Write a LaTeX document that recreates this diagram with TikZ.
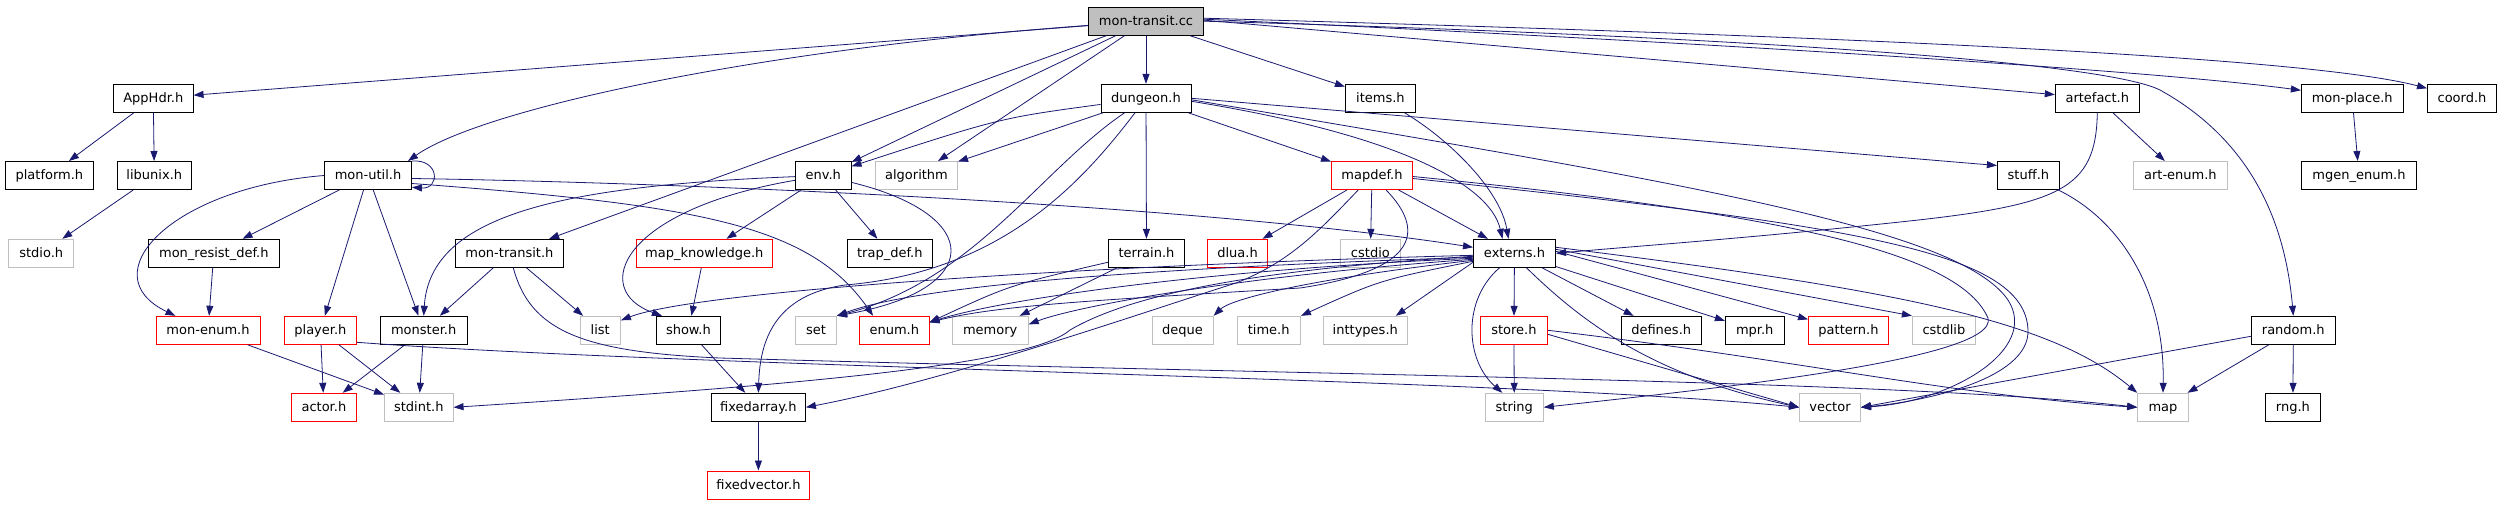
\documentclass[tikz,border=0pt]{standalone}
\usepackage{fontspec}
\setmainfont{DejaVu Sans}
\usetikzlibrary{arrows.meta}
\definecolor{eblue}{HTML}{191970}
\definecolor{grey75}{HTML}{BFBFBF}
\begin{document}
\begin{tikzpicture}[x=1pt,y=-1pt,
  nd/.style={rectangle, draw, line width=1pt, inner sep=0pt, minimum height=28pt,
    text height=10pt, text depth=2pt, font=\fontsize{13pt}{15pt}\selectfont, text=black},
  bk/.style={nd, draw=black},
  gy/.style={nd, draw=grey75},
  rd/.style={nd, draw=red},
  ln/.style={draw=eblue, line width=0.8pt, -{Triangle[length=10pt,width=7pt]}}]
\useasboundingbox (0,0) rectangle (2501,504);
\fill[white] (0,0) rectangle (2501,504);
% row 0
\node[bk, fill=grey75, minimum width=115pt] (root) at (1146,21.2) {mon-transit.cc};
% row 1
\node[bk, minimum width=79.5pt] (apphdr) at (153.3,98.3) {AppHdr.h};
\node[bk, minimum width=90pt] (dungeon) at (1146,98.3) {dungeon.h};
\node[bk, minimum width=70pt] (items) at (1380.4,98.3) {items.h};
\node[bk, minimum width=84pt] (artefact) at (2097.3,98.3) {artefact.h};
\node[bk, minimum width=101.6pt] (monplace) at (2352.2,98.3) {mon-place.h};
\node[bk, minimum width=69pt] (coord) at (2462,98.3) {coord.h};
% row 2
\node[bk, minimum width=88pt] (platform) at (49.4,175.5) {platform.h};
\node[bk, minimum width=73.4pt] (libunix) at (154.3,175.5) {libunix.h};
\node[bk, minimum width=87pt] (monutil) at (368,175.5) {mon-util.h};
\node[bk, minimum width=55.5pt] (env) at (823.3,175.5) {env.h};
\node[gy, minimum width=82pt] (algorithm) at (916.5,175.5) {algorithm};
\node[rd, minimum width=81pt] (mapdef) at (1372,175.5) {mapdef.h};
\node[bk, minimum width=62pt] (stuff) at (2028.4,175.5) {stuff.h};
\node[gy, minimum width=94pt] (artenum) at (2180.4,175.5) {art-enum.h};
\node[bk, minimum width=115pt] (mgenenum) at (2359,175.5) {mgen\_enum.h};
% row 3
\node[gy, minimum width=64.5pt] (stdio) at (41.2,253.3) {stdio.h};
\node[bk, minimum width=131.6pt] (monresist) at (213.8,253.3) {mon\_resist\_def.h};
\node[bk, minimum width=108.7pt] (montransith) at (509.4,253.3) {mon-transit.h};
\node[rd, minimum width=136pt] (mapknow) at (704.3,253.3) {map\_knowledge.h};
\node[bk, minimum width=85pt] (trapdef) at (889.8,253.3) {trap\_def.h};
\node[bk, minimum width=76pt] (terrain) at (1146.5,253.3) {terrain.h};
\node[rd, minimum width=59.5pt] (dlua) at (1237.5,253.3) {dlua.h};
\node[gy, minimum width=60pt] (cstdio) at (1370.4,253.3) {cstdio};
\node[bk, minimum width=82pt] (externs) at (1514.5,253.3) {externs.h};
% row 4
\node[rd, minimum width=104pt] (monenum) at (208,330.3) {mon-enum.h};
\node[rd, minimum width=72pt] (player) at (320.4,330.3) {player.h};
\node[bk, minimum width=87.3pt] (monster) at (423.7,330.3) {monster.h};
\node[gy, minimum width=40.4pt] (list) at (600.2,330.3) {list};
\node[bk, minimum width=64pt] (show) at (688.4,330.3) {show.h};
\node[gy, minimum width=41pt] (set) at (816,330.3) {set};
\node[rd, minimum width=69.4pt] (enum) at (894.3,330.3) {enum.h};
\node[gy, minimum width=76pt] (memory) at (990.2,330.3) {memory};
\node[gy, minimum width=61pt] (deque) at (1182.6,330.3) {deque};
\node[gy, minimum width=63.4pt] (timeh) at (1268.7,330.3) {time.h};
\node[gy, minimum width=84pt] (inttypes) at (1365.3,330.3) {inttypes.h};
\node[rd, minimum width=67pt] (store) at (1513.9,330.3) {store.h};
\node[bk, minimum width=80pt] (defines) at (1661.2,330.3) {defines.h};
\node[bk, minimum width=58.7pt] (mpr) at (1754.7,330.3) {mpr.h};
\node[rd, minimum width=80pt] (pattern) at (1848.5,330.3) {pattern.h};
\node[gy, minimum width=63pt] (cstdlib) at (1943.9,330.3) {cstdlib};
\node[bk, minimum width=84pt] (random) at (2293.3,330.3) {random.h};
% row 5
\node[rd, minimum width=65pt] (actor) at (323.9,407.3) {actor.h};
\node[gy, minimum width=68.5pt] (stdint) at (418.8,407.3) {stdint.h};
\node[bk, minimum width=94pt] (fixedarray) at (758.4,407.3) {fixedarray.h};
\node[gy, minimum width=58pt] (string) at (1514.3,407.3) {string};
\node[gy, minimum width=61pt] (vector) at (1830,407.3) {vector};
\node[gy, minimum width=50.6pt] (map) at (2163,407.3) {map};
\node[bk, minimum width=54.7pt] (rng) at (2292.9,407.3) {rng.h};
% row 6
\node[rd, minimum width=102pt] (fixedvector) at (758.4,485) {fixedvector.h};

% ---- edges from root
\draw[ln] (root) -- (apphdr);
\draw[ln] (root) .. controls (750,50) and (480,110) .. ([xshift=-4pt]monutil.north east);
\draw[ln] (root) -- (montransith);
\draw[ln] (root) -- (env);
\draw[ln] (root) -- (algorithm);
\draw[ln] (root) -- (dungeon);
\draw[ln] (root) -- (items);
\draw[ln] ([yshift=1pt]root.east) -- (artefact);
\draw[ln] ([yshift=2pt]root.east) .. controls (1700,42) and (2150,70) .. ([yshift=8pt]monplace.west);
\draw[ln] ([yshift=3pt]root.east) .. controls (1800,35) and (2300,55) .. ([yshift=10pt]coord.west);
\draw[ln] (root.east) .. controls (1700,35) and (2100,60) .. (2160,90) .. controls (2250,140) and (2285,220) .. (random.north);
% AppHdr
\draw[ln] (apphdr) -- (platform);
\draw[ln] (apphdr) -- (libunix);
\draw[ln] (libunix) -- (stdio);
% mon-util
\draw[ln] (monutil.north east) .. controls +(28,-2) and +(28,2) .. (monutil.-15);
\draw[ln] (monutil) -- (monresist);
\draw[ln] (monutil) -- (player);
\draw[ln] (monutil) -- (monster);
\draw[ln] (monutil.west) .. controls (170,188) and (90,275) .. ([xshift=20pt]monenum.north west);
\draw[ln] ([yshift=-8pt]monutil.east) .. controls (700,205) and (810,225) .. ([xshift=14pt]enum.north west);
\draw[ln] ([yshift=-3pt]monutil.east) .. controls (700,183) and (1200,205) .. ([yshift=6pt]externs.west);
\draw[ln] (monresist) -- (monenum);
\draw[ln] (monenum) -- (stdint);
\draw[ln] (player) -- (actor);
\draw[ln] (player) -- (stdint);
\draw[ln] ([yshift=-12pt]player.east) .. controls (700,368) and (1500,378) .. (vector.west);
\draw[ln] (monster) -- (actor);
\draw[ln] (monster) -- (stdint);
% mon-transit.h
\draw[ln] (montransith) -- (monster);
\draw[ln] (montransith) -- (list);
\draw[ln] (montransith) .. controls (530,330) and (580,352) .. (720,358) .. controls (1300,375) and (1900,380) .. (map.west);
% env
\draw[ln] (env) .. controls (560,186) and (430,215) .. (monster.north);
\draw[ln] (env) .. controls (620,210) and (590,290) .. ([xshift=6pt]show.north west);
\draw[ln] (env) -- (mapknow);
\draw[ln] (env) -- (trapdef);
\draw[ln] (env) .. controls (985,215) and (985,290) .. (set.north east);
\draw[ln] (mapknow) -- (show);
\draw[ln] (show) -- (fixedarray);
\draw[ln] (fixedarray) -- (fixedvector);
% dungeon
\draw[ln] (dungeon) .. controls (1000,118) .. (env);
\draw[ln] (dungeon) -- (algorithm);
\draw[ln] (dungeon) .. controls (1040,170) and (975,280) .. (set.north east);
\draw[ln] (dungeon) .. controls (1080,185) and (1000,272) .. (845,285) .. controls (775,295) and (760,340) .. (fixedarray.north);
\draw[ln] (dungeon) -- (terrain);
\draw[ln] (dungeon) -- (mapdef);
\draw[ln] ([yshift=-3pt]dungeon.east) .. controls (1400,135) and (1490,185) .. ([xshift=-12pt]externs.north);
\draw[ln] (dungeon.east) -- ([yshift=10pt]stuff.west);
\draw[ln] ([yshift=-1.5pt]dungeon.east) .. controls (1700,185) and (1960,230) .. (2008,300) .. controls (2040,350) and (1950,402) .. (vector.east);
% mapdef
\draw[ln] (mapdef) -- (dlua);
\draw[ln] (mapdef) -- (cstdio);
\draw[ln] (mapdef) -- (externs);
\draw[ln] (mapdef) .. controls (1320,230) and (1290,262) .. (1236,283) .. controls (1150,310) and (950,380) .. (fixedarray.east);
\draw[ln] (mapdef) .. controls (1425,230) and (1420,270) .. (1300,288) .. controls (1100,300) and (1000,305) .. ([yshift=8pt]enum.east);
\draw[ln] ([yshift=-1pt]mapdef.east) .. controls (1800,215) and (1960,255) .. (1988,318) .. controls (2000,360) and (1700,390) .. (string.east);
\draw[ln] ([yshift=-3pt]mapdef.east) .. controls (1850,225) and (2025,250) .. (2028,330) .. controls (2030,380) and (1920,402) .. (vector.east);
% items, artefact, mon-place, random, stuff
\draw[ln] (items) .. controls (1450,140) and (1500,190) .. ([xshift=-6pt]externs.north);
\draw[ln] (artefact) -- (artenum);
\draw[ln] (artefact.south) .. controls (2096,190) and (2060,205) .. (1900,222) .. controls (1750,238) and (1650,245) .. (externs.east);
\draw[ln] (monplace) -- (mgenenum);
\draw[ln] (random) -- (rng);
\draw[ln] (random) -- (map);
\draw[ln] ([yshift=-6pt]random.west) -- (vector.east);
\draw[ln] (stuff) .. controls (2120,220) and (2165,290) .. (map.north);
% terrain
\draw[ln] (terrain) .. controls (1010,285) .. ([yshift=8pt]enum.east);
\draw[ln] (terrain) -- (memory);
% externs fan-out
\draw[ln] ([yshift=-2pt]externs.west) .. controls (1100,265) and (700,290) .. ([yshift=10pt]list.east);
\draw[ln] ([yshift=-4pt]externs.west) .. controls (1150,268) and (920,285) .. (set.north east);
\draw[ln] ([yshift=-5pt]externs.west) .. controls (1200,270) and (1000,300) .. ([yshift=8pt]enum.east);
\draw[ln] ([yshift=-6pt]externs.west) .. controls (1250,275) and (1080,305) .. ([yshift=6pt]memory.east);
\draw[ln] ([yshift=-7pt]externs.west) .. controls (1300,280) and (1230,300) .. (deque.north east);
\draw[ln] ([yshift=-8pt]externs.west) .. controls (1380,280) .. (timeh.north east);
\draw[ln] ([yshift=-9pt]externs.west) -- ([xshift=-12pt]inttypes.north east);
\draw[ln] ([yshift=-3pt]externs.west) .. controls (1250,270) and (1130,295) .. (1070,330) .. controls (1030,365) and (800,385) .. (stdint.east);
\draw[ln] (externs) -- (store);
\draw[ln] ([xshift=-15pt]externs.south) .. controls (1462,300) and (1465,360) .. ([xshift=-12pt]string.north);
\draw[ln] ([xshift=12pt]externs.south) .. controls (1580,320) and (1650,375) .. (vector.west);
\draw[ln] (externs) -- (defines);
\draw[ln] (externs) -- (mpr);
\draw[ln] ([yshift=2pt]externs.east) -- (pattern);
\draw[ln] ([yshift=4pt]externs.east) -- (cstdlib.north west);
\draw[ln] ([yshift=6pt]externs.east) .. controls (1900,290) and (2050,320) .. (map.north west);
% store
\draw[ln] (store) -- (string);
\draw[ln] ([yshift=-4pt]store.east) -- (vector.west);
\draw[ln] (store.east) .. controls (1800,360) and (1950,395) .. (map.west);
\end{tikzpicture}
\end{document}
